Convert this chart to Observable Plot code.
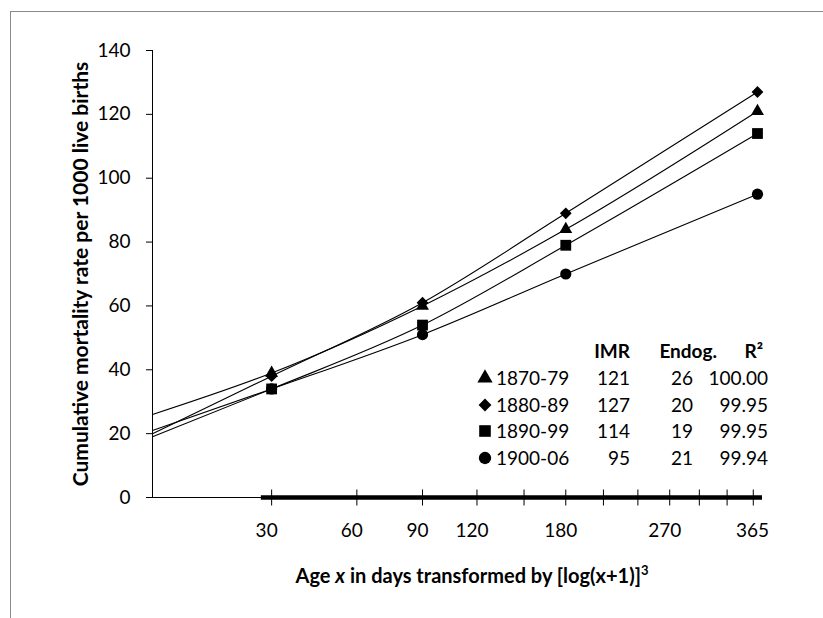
<!DOCTYPE html>
<html><head><meta charset="utf-8">
<script src="https://cdn.jsdelivr.net/npm/d3@7"></script>
<script src="https://cdn.jsdelivr.net/npm/@observablehq/plot@0.6"></script>
<style>
html,body{margin:0;padding:0;background:#fff;overflow:hidden;width:823px;height:618px;}
#wrap{position:relative;width:823px;height:618px;font-family:Lato,"Open Sans",sans-serif;color:#000;}
#frame{position:absolute;left:10px;top:11px;width:900px;height:700px;border:1px solid #8a8a8a;}
#chart{position:absolute;left:0;top:0;}
#xlabel{position:absolute;left:472px;top:564px;transform:translateX(-50%);white-space:nowrap;font-weight:bold;font-size:20px;line-height:22px;}
.lg{position:absolute;font-size:19px;line-height:22px;white-space:nowrap;}
.lgh{font-weight:bold;}
</style>
</head><body>
<div id="wrap">
  <div id="frame"></div>
  <div id="chart"></div>
  <div id="xlabel">Age <i>x</i> in days transformed by [log(x+1)]<sup style="font-size:13px;vertical-align:8px;line-height:0">3</sup></div>
  <div id="legend"></div>
</div>
<script>
// ---- data ----
const periods = ["1870-79", "1880-89", "1890-99", "1900-06"];
const symbols = ["triangle", "diamond2", "square", "circle"];
const days = [30, 90, 180, 365];
const rate1870 = [39, 60, 84, 121];
const rate1880 = [38, 61, 89, 127];
const rate1890 = [34, 54, 79, 114];
const rate1900 = [34, 51, 70, 95];
const imr = [121, 127, 114, 95];
const endog = [26, 20, 19, 21];
const r2 = ["100.00", "99.95", "99.95", "99.94"];
const yTicks = [0, 20, 40, 60, 80, 100, 120, 140];
const xTickDays = [30, 60, 90, 120, 150, 180, 210, 240, 270, 300, 330, 360];
const xLabelDays = [30, 60, 90, 120, 180, 270, 365];
const axisEndDay = 371;
const thickAxisStartDay = 27;
const headers = ["IMR", "Endog.", "R²"];
const yLabel = "Cumulative mortality rate per 1000 live births";

// transform: [log(x+1)]^3
const f = d => Math.pow(Math.log10(d + 1), 3);

const rates = [rate1870, rate1880, rate1890, rate1900];
const lineData = periods.flatMap((p, i) => [
  {period: p, day: 0, rate: endog[i]},
  ...days.map((d, j) => ({period: p, day: d, rate: rates[i][j]}))
]);
const symR = {triangle: 4.8, diamond2: 5.3, square: 6.1, circle: 5.6};

const dotMarks = periods.map((p, i) =>
  Plot.dot(days.map((d, j) => ({day: d, rate: rates[i][j]})), {
    x: d => f(d.day), y: "rate", symbol: () => symbols[i], r: symR[symbols[i]],
    fill: "black", stroke: "none"
  })
);

// crossing tick symbol for the x axis
const crossTick = {draw(context) { context.moveTo(0, -8); context.lineTo(0, 8); }};

const chart = Plot.plot({
  width: 823, height: 618,
  marginLeft: 152, marginRight: 61, marginTop: 50, marginBottom: 121,
  style: {fontFamily: "Lato, 'Open Sans', sans-serif", fontSize: "19px", color: "black", background: "transparent"},
  x: {domain: [0, f(axisEndDay)], axis: null},
  y: {domain: [0, 140], axis: null},
  symbol: {type: "identity"},
  marks: [
    Plot.ruleX([0], {stroke: "black", strokeWidth: 1}),
    Plot.axisY({ticks: yTicks, tickSize: 6, tickPadding: 16, fontSize: 19, label: null, tickFormat: d3.format("d"), stroke: "black", fill: "black"}),
    Plot.ruleY([0], {stroke: "black", strokeWidth: 1}),
    Plot.ruleY([0], {x1: f(thickAxisStartDay), x2: f(axisEndDay), stroke: "black", strokeWidth: 4.5}),
    Plot.dot(xTickDays, {x: d => f(d), y: () => 0, symbol: crossTick, stroke: "black", strokeWidth: 1, fill: "none"}),
    Plot.text(xLabelDays, {x: d => f(d), y: () => 0, dy: 33, dx: -5, text: d => String(d), fontSize: 19, fill: "black"}),
    Plot.line(lineData, {x: d => f(d.day), y: "rate", z: "period", curve: "monotone-x", stroke: "black", strokeWidth: 1.1}),
    ...dotMarks,
    Plot.text([yLabel], {frameAnchor: "left", textAnchor: "middle", dx: -71, rotate: -90, fontWeight: "bold", fontSize: 21, fill: "black"})
  ]
});
document.getElementById("chart").appendChild(chart);

// ---- legend table (built from arrays) ----
const lg = document.getElementById("legend");
const W = 823;
const headerRight = [630, 717, 763];
const colRight = [630, 693, 768];
const headerY = 351, rowY0 = 378, rowStep = 26.6;
headers.forEach((h, k) => {
  const s = document.createElement("div");
  s.className = "lg lgh";
  s.style.right = (W - headerRight[k]) + "px";
  s.style.top = (headerY - 11) + "px";
  s.textContent = h;
  lg.appendChild(s);
});
const legSize = {triangle: 100, diamond2: 105, square: 135, circle: 120};
const symMap = {triangle: d3.symbolTriangle, diamond2: d3.symbolDiamond2, square: d3.symbolSquare, circle: d3.symbolCircle};
periods.forEach((p, i) => {
  const cy = rowY0 + i * rowStep;
  const svg = d3.select(lg).append("svg")
    .attr("width", 18).attr("height", 18)
    .style("position", "absolute").style("left", "476px").style("top", (cy - 9) + "px");
  svg.append("path").attr("transform", "translate(9,9)")
    .attr("d", d3.symbol(symMap[symbols[i]], legSize[symbols[i]])()).attr("fill", "black");
  const t = document.createElement("div");
  t.className = "lg"; t.style.left = "496px"; t.style.top = (cy - 11) + "px"; t.textContent = p;
  lg.appendChild(t);
  [imr[i], endog[i], r2[i]].forEach((v, k) => {
    const c = document.createElement("div");
    c.className = "lg"; c.style.right = (W - colRight[k]) + "px"; c.style.top = (cy - 11) + "px";
    c.textContent = String(v);
    lg.appendChild(c);
  });
});
</script>
</body></html>
